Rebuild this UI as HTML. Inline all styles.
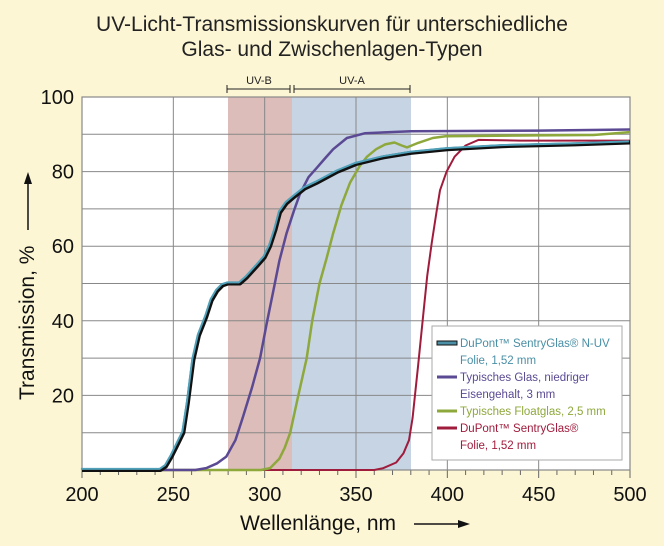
<!DOCTYPE html>
<html><head><meta charset="utf-8"><style>
html,body{margin:0;padding:0;background:#fcf5d4;}
svg{display:block;font-family:"Liberation Sans",sans-serif;}
</style></head><body>
<svg id="s" width="664" height="546" viewBox="0 0 664 546" xmlns="http://www.w3.org/2000/svg">
<rect width="664" height="546" fill="#fcf6d4"/>
<text x="332" y="31" font-size="21" text-anchor="middle" fill="#222">UV-Licht-Transmissionskurven für unterschiedliche</text>
<text x="332" y="56" font-size="21" text-anchor="middle" fill="#222">Glas- und Zwischenlagen-Typen</text>
<rect x="82" y="97" width="548" height="373" fill="#fff"/>
<rect x="228" y="97" width="64" height="373" fill="#dcbdb9"/>
<rect x="292" y="97" width="119" height="373" fill="#c6d4e4"/>
<g id="grid" stroke="#888" stroke-width="1"></g>
<rect x="82" y="97" width="548" height="373" fill="none" stroke="#888" stroke-width="1.2"/>
<g stroke="#222" stroke-width="1" fill="#222">
<line x1="227" y1="89" x2="290" y2="89"/><line x1="294" y1="89" x2="410" y2="89"/>
<line x1="227" y1="85" x2="227" y2="93"/><line x1="290" y1="85" x2="290" y2="93"/>
<line x1="294" y1="85" x2="294" y2="93"/><line x1="410" y1="85" x2="410" y2="93"/>
</g>
<text x="259" y="84" font-size="11" text-anchor="middle" fill="#222">UV-B</text>
<text x="352" y="84" font-size="11" text-anchor="middle" fill="#222">UV-A</text>
<g id="labels" font-size="20" fill="#111"></g>
<g id="curves" fill="none" stroke-linejoin="round"></g>
<text transform="translate(34,400) rotate(-90)" font-size="21" fill="#111">Transmission, %</text>
<line x1="28" y1="230" x2="28" y2="180" stroke="#111" stroke-width="1.5"/>
<polygon points="28,172 24,184 32,184" fill="#111"/>
<text x="240" y="530" font-size="21" fill="#111">Wellenlänge, nm</text>
<line x1="414" y1="524" x2="462" y2="524" stroke="#111" stroke-width="1.5"/>
<polygon points="470,524 458,520 458,528" fill="#111"/>
<rect x="432" y="326" width="190" height="134" fill="#fff" stroke="#aaa"/>
<g font-size="11.5">
<rect x="437" y="341" width="20" height="4" fill="#4a8fa5" stroke="#111" stroke-width="1"/>
<text x="460" y="347" fill="#4a8fa5">DuPont™ SentryGlas® N-UV</text>
<text x="460" y="364" fill="#4a8fa5">Folie, 1,52 mm</text>
<line x1="437" y1="377" x2="457" y2="377" stroke="#5b4a93" stroke-width="3"/>
<text x="460" y="381" fill="#5b4a93">Typisches Glas, niedriger</text>
<text x="460" y="398" fill="#5b4a93">Eisengehalt, 3 mm</text>
<line x1="437" y1="411" x2="457" y2="411" stroke="#8ea83c" stroke-width="3"/>
<text x="460" y="415" fill="#8ea83c">Typisches Floatglas, 2,5 mm</text>
<line x1="437" y1="428" x2="457" y2="428" stroke="#a01c3c" stroke-width="3"/>
<text x="460" y="432" fill="#a01c3c">DuPont™ SentryGlas®</text>
<text x="460" y="449" fill="#a01c3c">Folie, 1,52 mm</text>
</g>
</svg>
<script>
const NS="http://www.w3.org/2000/svg";
const X=w=>82+(w-200)*548/300, Y=t=>470-t*3.73;
const g=document.getElementById('grid'),lb=document.getElementById('labels'),cv=document.getElementById('curves');
function el(p,tag,a,txt){const e=document.createElementNS(NS,tag);for(const k in a)e.setAttribute(k,a[k]);if(txt)e.textContent=txt;p.appendChild(e);return e;}
for(let w=250;w<500;w+=50)el(g,'line',{x1:X(w),y1:97,x2:X(w),y2:470});
for(let t=10;t<100;t+=10)el(g,'line',{x1:82,y1:Y(t),x2:630,y2:Y(t)});
for(let w=200;w<=500;w+=10)el(g,'line',{x1:X(w),y1:470,x2:X(w),y2:w%50?475:478,stroke:'#666'});
for(let w=200;w<=500;w+=50)el(lb,'text',{x:X(w),y:501,'text-anchor':'middle'},w);
for(let t=0;t<=100;t+=20)el(lb,'text',{x:74,y:Y(t)+7,'text-anchor':'end'},t);
function pts(a){return a.map(p=>X(p[0]).toFixed(1)+','+Y(p[1]).toFixed(1)).join(' ');}
const red=[[200,0],[360,0],[365,0.5],[372,2],[376,4.5],[379,8],[381,14],[384,28],[386.7,41],[389,52],[391.5,61],[394,69],[396,75],[399.6,80],[404,84],[410,87],[417,88.5],[440,88.3],[500,88.3]];
const green=[[200,0],[298,0],[303,0.5],[308,3],[311,6],[314,10],[318,19],[323,30],[326,40],[330,50],[334,57],[337.5,63.5],[342,71],[346.7,77],[352,81.5],[356,84],[361,86],[366,87.3],[371,87.8],[375,87],[378,86.5],[384,87.7],[392,89],[399,89.5],[450,89.7],[480,89.8],[500,90.6]];
const purple=[[200,0],[262,0],[268,0.5],[274,1.8],[279,3.6],[284,8],[288,14],[293,22],[297.5,30],[301,39],[304.7,48],[308,56],[312,63.5],[316,69.5],[319.3,74],[324,78.5],[328.5,81],[333,83.5],[337.5,86],[345,89],[355,90.3],[380,90.8],[450,91],[500,91.3]];
const nuv=[[200,0],[243,0],[246,1],[249,3.5],[252,6.5],[255.5,10],[258,18],[261,29.5],[264,36],[268,41],[271,45.5],[274,48],[277,49.5],[280,50],[286.5,50],[290,51.5],[295.6,54.5],[300,57],[303,60],[306,64.5],[308.4,69],[312,71.5],[315.6,73],[322,75.5],[328.5,77],[340,80],[350,82],[365,83.8],[380,85],[400,86],[430,86.8],[470,87.3],[500,87.8]];
el(cv,'polyline',{points:pts(red),stroke:'#a01c3c','stroke-width':2});
el(cv,'polyline',{points:pts(green),stroke:'#8ea83c','stroke-width':2.5});
el(cv,'polyline',{points:pts(purple),stroke:'#5b4a93','stroke-width':2.5});
el(cv,'polyline',{points:pts(nuv),stroke:'#111','stroke-width':4});
el(cv,'polyline',{points:pts(nuv.map(p=>[p[0]-0.6,p[1]+0.3])),stroke:'#4fa0b8','stroke-width':2});
</script>
</body></html>
